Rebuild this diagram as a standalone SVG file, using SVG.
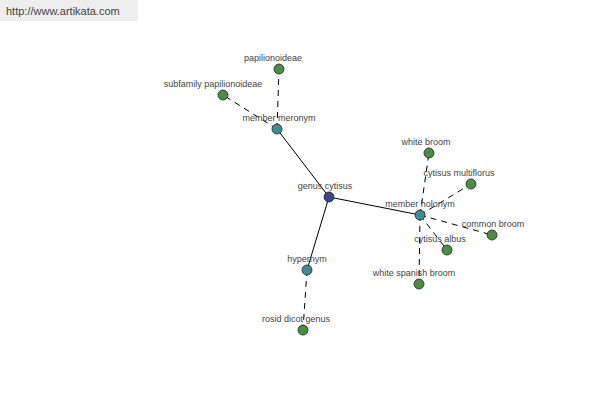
<svg xmlns="http://www.w3.org/2000/svg" width="600" height="400" viewBox="0 0 600 400">
<style>
.lbl{font-family:"Liberation Sans",Arial,sans-serif;font-size:9px;fill:#444;text-anchor:middle}
.leaf{fill:#4e8b47;stroke:#222;stroke-width:0.8}
.mid{fill:#3f8d93;stroke:#222;stroke-width:0.8}
.root{fill:#3b4690;stroke:#222;stroke-width:0.8}
.solid{stroke:#000;stroke-width:1;fill:none}
.dash{stroke:#000;stroke-width:1;fill:none;stroke-dasharray:6,5}
</style>
<rect width="600" height="400" fill="#fff"/>
<rect x="0" y="0" width="138" height="21" fill="#eeeeee"/>
<text x="6" y="15" style="font-family:'Liberation Sans',Arial,sans-serif;font-size:11px;fill:#444">http://www.artikata.com</text>
<g id="connectors">
<line class="solid" x1="329" y1="197" x2="277" y2="129"/>
<line class="solid" x1="329" y1="197" x2="420" y2="215"/>
<line class="solid" x1="329" y1="197" x2="307" y2="270"/>
<line class="dash" x1="277" y1="129" x2="279" y2="69"/>
<line class="dash" x1="277" y1="129" x2="223" y2="95"/>
<line class="dash" x1="420" y1="215" x2="429" y2="153"/>
<line class="dash" x1="420" y1="215" x2="471" y2="184"/>
<line class="dash" x1="420" y1="215" x2="492" y2="235"/>
<line class="dash" x1="420" y1="215" x2="447" y2="250"/>
<line class="dash" x1="420" y1="215" x2="419" y2="284"/>
<line class="dash" x1="307" y1="270" x2="303" y2="330"/>
</g>
<g id="papilionoideae"><circle class="leaf" cx="279" cy="69" r="5"/><text class="lbl" x="273" y="61">papilionoideae</text></g>
<g id="subfamily-papilionoideae"><circle class="leaf" cx="223" cy="95" r="5"/><text class="lbl" x="213" y="87">subfamily papilionoideae</text></g>
<g id="member-meronym"><circle class="mid" cx="277" cy="129" r="5"/><text class="lbl" x="279" y="121">member meronym</text></g>
<g id="genus-cytisus"><circle class="root" cx="329" cy="197" r="5"/><text class="lbl" x="325" y="189">genus cytisus</text></g>
<g id="white-broom"><circle class="leaf" cx="429" cy="153" r="5"/><text class="lbl" x="426" y="145">white broom</text></g>
<g id="cytisus-multiflorus"><circle class="leaf" cx="471" cy="184" r="5"/><text class="lbl" x="459" y="176">cytisus multiflorus</text></g>
<g id="member-holonym"><circle class="mid" cx="420" cy="215" r="5"/><text class="lbl" x="420" y="207">member holonym</text></g>
<g id="common-broom"><circle class="leaf" cx="492" cy="235" r="5"/><text class="lbl" x="493" y="227">common broom</text></g>
<g id="cytisus-albus"><circle class="leaf" cx="447" cy="250" r="5"/><text class="lbl" x="440" y="242">cytisus albus</text></g>
<g id="white-spanish-broom"><circle class="leaf" cx="419" cy="284" r="5"/><text class="lbl" x="414" y="276">white spanish broom</text></g>
<g id="hypernym"><circle class="mid" cx="307" cy="270" r="5"/><text class="lbl" x="307" y="262">hypernym</text></g>
<g id="rosid-dicot-genus"><circle class="leaf" cx="303" cy="330" r="5"/><text class="lbl" x="296" y="322">rosid dicot genus</text></g>
</svg>
